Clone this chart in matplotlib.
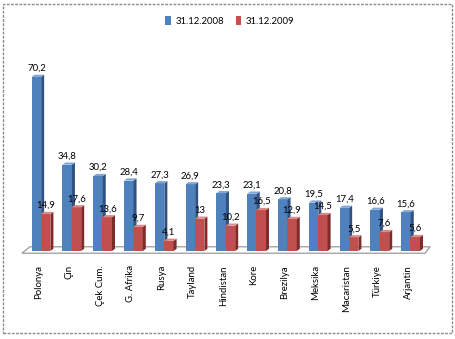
import matplotlib
matplotlib.use("Agg")
import matplotlib.pyplot as plt
from matplotlib.patches import Polygon, Rectangle, Patch

# Data
categories = ["Polonya", "Çin", "Çek Cum.", "G. Afrika", "Rusya", "Tayland",
              "Hindistan", "Kore", "Brezilya", "Meksika", "Macaristan",
              "Türkiye", "Arjantin"]
values_2008 = [70.2, 34.8, 30.2, 28.4, 27.3, 26.9, 23.3, 23.1, 20.8, 19.5, 17.4, 16.6, 15.6]
values_2009 = [14.9, 17.6, 13.6, 9.7, 4.1, 13, 10.2, 16.5, 12.9, 14.5, 5.5, 7.6, 5.6]
series_labels = ["31.12.2008", "31.12.2009"]

W, H = 456, 339
plt.rcParams["font.family"] = ["Lato", "DejaVu Sans"]
FS = 6.9

fig = plt.figure(figsize=(W / 100, H / 100), dpi=100)
ax = fig.add_axes([0, 0, 1, 1])
ax.set_axis_off()

# Scale: group pitch in pixels, pixels per value unit, baseline position
pitch = 30.8
first_center = 41.0
px_per_unit = 2.48
base_px = 251.0
ax.set_xlim(-first_center / pitch, (W - first_center) / pitch)
ax.set_ylim(-(H - base_px) / px_per_unit, base_px / px_per_unit)

# 3D depth offsets, in data units
dx = 3.0 / pitch
dy = 2.2 / px_per_unit
width = 0.31
offset = 0.15

blue = ("#4F81BD", "#2F5283", "#7FA5D6")
red = ("#C0504D", "#7E2B29", "#DA8A88")

# Floor plane under the bars
floor = Polygon([(-0.62, -0.9), (12.47, -0.9), (12.63, 1.7), (-0.36, 1.7)],
                closed=True, facecolor="white", edgecolor="#9A9A9A", lw=0.9, zorder=1)
ax.add_patch(floor)


def draw_bar(xc, h, cols, z):
    front, side, top = cols
    x0, x1 = xc - width / 2, xc + width / 2
    ax.bar(xc, h, width=width, color=front, edgecolor="none", zorder=z)
    ax.add_patch(Polygon([(x1, 0), (x1 + dx, dy), (x1 + dx, h + dy), (x1, h)],
                         closed=True, facecolor=side, edgecolor="none", zorder=z))
    ax.add_patch(Polygon([(x0, h), (x1, h), (x1 + dx, h + dy), (x0 + dx, h + dy)],
                         closed=True, facecolor=top, edgecolor="none", zorder=z))


def fmt(v):
    return f"{v:g}".replace(".", ",")


label_gap = 6.0 / px_per_unit
for i, (a, b) in enumerate(zip(values_2008, values_2009)):
    xb, xr = i - offset, i + offset
    draw_bar(xb, a, blue, 2 + 2 * i)
    draw_bar(xr, b, red, 3 + 2 * i)
    ax.text(xb, a + label_gap, fmt(a), ha="center", va="baseline", fontsize=FS,
            color="black", zorder=50)
    ax.text(xr, b + label_gap, fmt(b), ha="center", va="baseline", fontsize=FS,
            color="black", zorder=50)
    ax.text(i - 2.5 / pitch, -(265 - base_px) / px_per_unit, categories[i],
            rotation=90, ha="center", va="top", fontsize=FS, color="black")

# Legend
handles = [Patch(facecolor=blue[0], edgecolor="none"),
           Patch(facecolor=red[0], edgecolor="none")]
fig.legend(handles, series_labels, loc="center", bbox_to_anchor=(0.504, 1 - 21 / H),
           ncol=2, frameon=False, fontsize=FS, handlelength=0.55, handleheight=1.0,
           handletextpad=0.5, columnspacing=1.2, borderpad=0)

# Outer chart border
fig.add_artist(Rectangle((3 / W, 1 - 333 / H), 449 / W, 329 / H, transform=fig.transFigure,
                         fill=False, edgecolor="#8C8C8C", lw=1.0, linestyle=(0, (2, 1))))

fig.savefig("out.png", dpi=100)
